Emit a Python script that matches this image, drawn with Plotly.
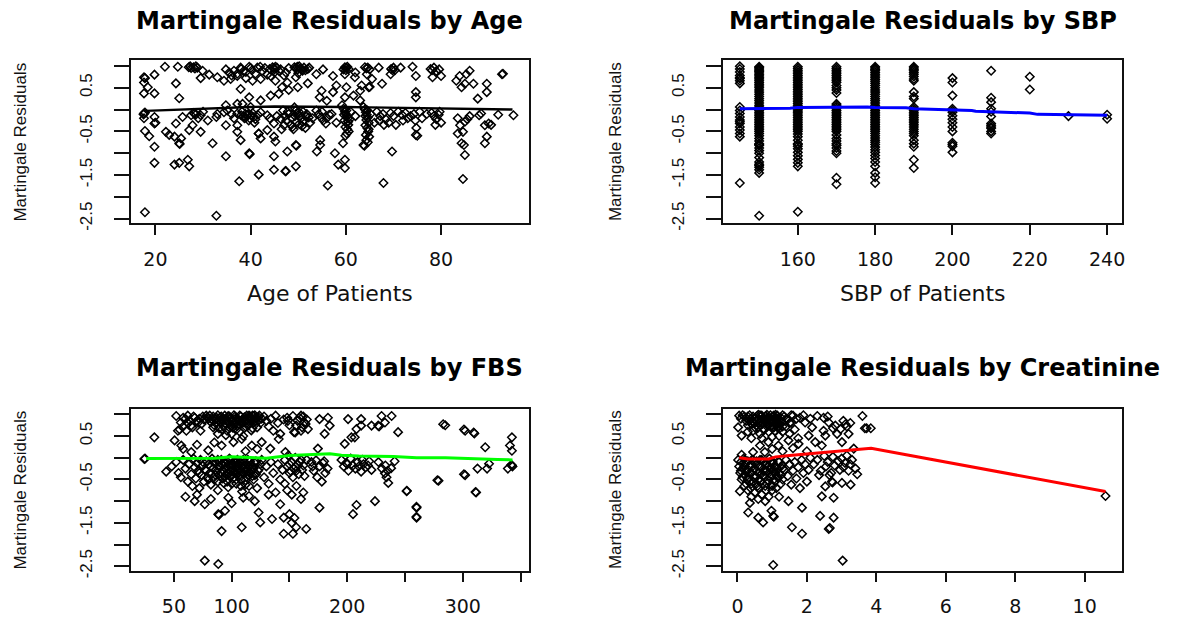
import plotly.graph_objects as go

# ---------------- data ----------------
# Panel 1: age vs martingale residual
age_points = [
    (22,0.98),(24.7,0.98),(27,0.97),(27.5,0.95),(28,0.97),(28.3,0.94),(28.8,0.96),(29.9,0.89),(29.5,0.72),(31.3,0.80),
    (33,0.74),(34.8,0.92),(35.5,0.85),(36.5,0.89),(37.2,0.82),(37.9,0.96),(38.5,0.88),(39.7,0.98),(40.3,0.9),(41.4,0.96),
    (42.4,0.89),(43,0.95),(44.6,0.97),(44.9,0.95),(45.2,0.98),(45,0.92),(46.3,0.92),(47.4,0.85),(49.2,0.97),(49.5,0.95),
    (49.8,0.98),(50.5,0.93),(50.9,0.89),(51.2,0.96),(52.3,0.96),(53.8,0.81),(55.2,0.92),(57.3,0.77),(59.8,0.97),(60.1,0.95),
    (60.3,0.98),(60,0.9),(59.8,0.81),(61.9,0.74),(64,0.97),(64.3,0.94),(64.4,0.81),(66.9,0.96),(69.5,0.93),(69.8,0.9),
    (69.4,0.81),(71.5,0.96),(74,0.98),(74.7,0.77),(77.8,0.93),(78.1,0.9),(79.6,0.92),(78.2,0.74),(80,0.77),(83.9,0.77),
    (86,0.89),(85.3,0.81),(93,0.82),
    (27.3,0.99),(28.5,0.99),(38,0.93),(40,0.95),(42,0.98),(44,0.93),(45.5,0.96),(46,0.88),(48,0.95),(49.9,0.92),
    (50.2,0.99),(51.5,0.9),(52,0.93),(59.5,0.92),(60.6,0.93),(64.6,0.96),(65,0.92),(70,0.96),(70.3,0.9),(78.5,0.96),
    (79,0.88),(45,0.85),(41,0.82),(39,0.86),(43.5,0.8),(47,0.78),(50,0.83),(36,0.78),(62,0.85),(65.5,0.7),
    (17.6,0.74),(17.8,0.72),(17.6,0.62),(19.8,0.80),(18.4,0.51),(17.6,0.37),(19.8,0.37),(24.3,0.60),(25,0.26),(34.4,0.66),
    (35.8,0.70),(37.2,0.77),(39,0.72),(40.4,0.66),(42.1,0.70),(44.2,0.77),(45.2,0.66),(37.9,0.47),(39.7,0.28),(37.2,0.13),
    (34.8,0.10),(42.1,0.21),(44.2,0.32),(45.9,0.36),(46.6,0.51),(47.7,0.62),(49.5,0.74),(49.9,0.51),(54.5,0.28),(54.9,0.43),
    (57.3,0.40),(59.8,0.28),(60.1,0.51),(61.6,0.32),(63,0.21),(63,0.43),(63.3,0.55),(64.8,0.51),(65,0.52),(67.6,0.59),
    (74.7,0.40),(74.7,0.28),(83.2,0.66),(84.3,0.51),(85,0.59),(86.8,0.59),(89.6,0.59),(89.6,0.40),(87.7,0.25),(92.8,0.81),
    (56,0.2),(58,0.55),(48,0.45),(52,0.6),
    (17.6,-0.09),(17.8,-0.07),(17.5,-0.11),(17.6,-0.2),(19.8,-0.17),(19.8,-0.32),(20,-0.30),(24.3,-0.32),(25.7,-0.17),(27.5,-0.13),
    (28.2,-0.09),(28.5,-0.11),(28,-0.08),(29.5,-0.13),(27.8,-0.36),(27.1,-0.47),(29.5,-0.51),(32.8,-0.17),(34.8,-0.36),(35.1,-0.02),
    (34.4,-0.06),(37.2,-0.09),(38,-0.13),(38.5,-0.15),(39,-0.18),(39.3,-0.12),(39.8,-0.2),(40.2,-0.14),(40.7,-0.17),(38.7,-0.2),
    (39.5,-0.1),(40,0.06),(38.3,0.13),(37.2,-0.36),(37.2,-0.51),(41.7,-0.55),(43.5,-0.47),(44.9,-0.32),(42.1,-0.06),(43.5,-0.13),
    (46.3,-0.21),(47,-0.36),(46.8,-0.02),(47.2,-0.15),(47.5,-0.25),(48,-0.1),(48.5,-0.35),(48.8,-0.4),(49.2,0.05),(49.5,-0.02),
    (49.8,-0.08),(50,-0.12),(50.3,-0.16),(50.6,-0.2),(51,-0.05),(51.3,-0.24),(51.8,-0.1),(52.2,-0.18),(49.6,-0.28),(50.2,-0.33),
    (50.8,-0.38),(49,-0.45),(51.5,-0.42),(53.8,-0.02),(54.3,-0.1),(54.8,-0.18),(55.3,-0.25),(55.8,-0.32),(56.5,-0.12),(59.2,0.1),
    (59.5,0.02),(59.8,-0.05),(60,-0.1),(60.2,-0.15),(60.4,-0.2),(59.7,-0.25),(60.1,-0.3),(60.5,-0.35),(59.9,-0.4),(60.3,-0.45),
    (60.6,-0.5),(61,-0.05),(60.8,-0.22),(63.7,0.06),(64,0.0),(64.2,-0.06),(64.4,-0.12),(64.6,-0.18),(64.3,-0.24),(64.8,-0.3),
    (64.1,-0.36),(64.5,-0.42),(64.7,-0.5),(64.2,-0.58),(64.9,-0.62),(65.2,-0.1),(66.5,-0.05),(67.2,-0.15),(67.8,-0.1),(68.4,-0.22),
    (69,-0.3),(69.4,-0.08),(68,-0.35),(71,-0.05),(71.8,-0.12),(72.5,-0.08),(73,-0.2),(73.6,-0.15),(74.3,-0.1),(74.6,-0.25),
    (74.8,-0.42),(75,-0.6),(74.7,-0.58),(78,-0.08),(78.5,-0.15),(79,-0.22),(79.5,-0.12),(80,-0.3),(78.8,-0.35),(79.7,-0.05),
    (83.5,-0.2),(84,-0.36),(85,-0.28),(85.5,-0.22),(86,-0.15),(88,-0.13),(88.4,-0.09),(89.2,-0.36),(90,-0.32),(90.5,-0.35),
    (92,-0.12),(95.2,-0.13),(84.6,-0.51),(83.5,-0.55),
    (38.2,-0.05),(39.6,-0.25),(40.4,-0.08),(41,-0.22),(38.9,-0.1),(40.8,-0.3),(36.5,-0.2),(41.5,-0.12),(49.3,-0.15),(50.1,-0.05),
    (50.9,-0.28),(51.6,-0.15),(48.6,-0.2),(52.5,-0.3),(46.5,-0.45),(60.1,-0.02),(59.6,-0.12),(60.5,-0.28),(60.2,-0.55),(59.9,-0.6),
    (64.5,-0.02),(64.1,-0.15),(64.8,-0.45),(64.3,-0.7),(64.6,-0.75),(55,-0.05),(56,-0.2),(57,-0.1),(58,-0.3),(67,-0.25),
    (70,-0.15),(72,-0.25),(76,-0.2),(77,-0.1),(29,-0.2),(30,-0.05),(31,-0.25),(33,-0.1),(36,-0.1),(44,-0.2),
    (45.5,-0.15),(47.8,-0.05),(53,-0.2),(62,-0.15),(66,-0.3),(70.5,-0.35),(75.5,-0.05),
    (17.8,-0.49),(18.7,-0.61),(19.8,-0.85),(19.8,-1.22),(22.2,-0.51),(22.9,-0.58),(24,-0.62),(25,-0.77),(25.1,-0.79),(25.4,-0.66),
    (25,-1.22),(26.8,-1.15),(27.1,-1.30),(24,-1.26),(17.8,-2.35),(32.8,-2.43),(32,-0.77),(34.8,-1.07),(37.9,-0.70),(39.7,-1.0),
    (39.8,-1.02),(37.6,-1.64),(41.7,-1.49),(44.9,-1.38),(47.3,-1.41),(44.9,-1.07),(42.1,-0.66),(41.7,-0.55),(44.9,-0.62),(45.2,-0.73),
    (47.7,-0.96),(49.5,-0.81),(49.6,-0.83),(47.4,-1.41),(49.5,-1.30),(53.9,-0.96),(54.6,-0.81),(54.6,-0.70),(57.7,-1.0),(59.4,-0.77),
    (59.8,-1.15),(58.4,-1.26),(59.8,-1.34),(63.7,-0.81),(63.9,-0.83),(56.2,-1.74),(67.9,-1.68),(69.7,-0.96),(84.3,-0.77),(85,-1.04),
    (84.6,-1.59),(89.6,-0.62),(89.2,-0.77),(84.8,-0.81),
]
age_line_x = [18, 25, 30, 35, 40, 45, 50, 55, 60, 65, 70, 75, 80, 85, 90, 95]
age_line_y = [-0.03, 0.0, 0.03, 0.05, 0.06, 0.07, 0.07, 0.06, 0.06, 0.05, 0.04, 0.03, 0.02, 0.01, 0.01, 0.0]

# Panel 2: SBP levels and residuals observed at each level
sbp_levels = [145, 150, 160, 170, 180, 190, 200, 210, 220, 230, 240]
sbp_residuals = [
    [0.99, 0.93, 0.86, 0.78, 0.73, 0.71, 0.66, 0.60, 0.06, -0.02, -0.09, -0.17, -0.24, -0.28, -0.32, -0.40, -0.47, -0.55, -0.62, -1.68],
    [0.98, 0.96, 0.93, 0.9, 0.87, 0.84, 0.8, 0.77, 0.73, 0.7, 0.66, 0.62, 0.58, 0.54, 0.5, 0.45, 0.4, 0.35, 0.3, 0.25, 0.2, 0.15,
     0.1, 0.06, 0.02, -0.02, -0.06, -0.1, -0.14, -0.18, -0.22, -0.26, -0.3, -0.34, -0.38, -0.42, -0.46, -0.5, -0.55, -0.6, -0.66,
     -0.72, -0.78, -0.8, -0.82, -0.88, -0.94, -1.0, -1.1, -1.2, -1.25, -1.28, -1.32, -1.38, -1.45, -2.43],
    [0.98, 0.94, 0.9, 0.86, 0.82, 0.78, 0.74, 0.7, 0.66, 0.62, 0.58, 0.54, 0.5, 0.46, 0.42, 0.38, 0.34, 0.3, 0.26, 0.22, 0.18,
     0.14, 0.1, 0.06, 0.03, 0.0, -0.03, -0.06, -0.1, -0.14, -0.18, -0.22, -0.26, -0.3, -0.34, -0.38, -0.42, -0.46, -0.5, -0.56,
     -0.62, -0.7, -0.78, -0.8, -0.84, -0.9, -0.98, -1.06, -1.14, -1.22, -1.3, -2.34],
    [0.98, 0.94, 0.9, 0.86, 0.82, 0.78, 0.74, 0.7, 0.66, 0.62, 0.55, 0.5, 0.45, 0.38, 0.13, 0.1, 0.06, 0.02, -0.02, -0.06, -0.1,
     -0.14, -0.18, -0.22, -0.26, -0.3, -0.34, -0.38, -0.42, -0.46, -0.5, -0.58, -0.66, -0.72, -0.78, -0.82, -0.88, -0.95, -1.0,
     -1.56, -1.71],
    [0.98, 0.95, 0.92, 0.89, 0.85, 0.81, 0.77, 0.73, 0.69, 0.65, 0.6, 0.55, 0.5, 0.45, 0.4, 0.35, 0.3, 0.25, 0.2, 0.15, 0.1,
     0.06, 0.02, -0.02, -0.06, -0.1, -0.14, -0.18, -0.22, -0.26, -0.3, -0.34, -0.38, -0.42, -0.46, -0.5, -0.55, -0.6, -0.65,
     -0.7, -0.75, -0.8, -0.86, -0.92, -0.98, -1.05, -1.12, -1.2, -1.3, -1.45, -1.55, -1.68],
    [0.98, 0.95, 0.92, 0.89, 0.85, 0.81, 0.76, 0.7, 0.66, 0.4, 0.3, 0.25, 0.06, 0.02, -0.02, -0.06, -0.1, -0.14, -0.18, -0.22,
     -0.26, -0.3, -0.35, -0.4, -0.45, -0.5, -0.55, -0.6, -0.7, -0.78, -0.85, -1.15, -1.34],
    [0.72, 0.62, 0.32, 0.02, -0.02, -0.06, -0.14, -0.22, -0.3, -0.4, -0.5, -0.76, -0.8, -0.84, -0.98],
    [0.89, 0.27, 0.17, 0.02, -0.05, -0.16, -0.32, -0.36, -0.4, -0.43, -0.5, -0.55],
    [0.75, 0.46],
    [-0.15],
    [-0.12, -0.21],
]
sbp_line_x = [145, 150, 158, 160, 170, 178, 180, 188, 190, 200, 205, 206, 210, 212, 220, 222, 230, 240]
sbp_line_y = [0.02, 0.02, 0.03, 0.05, 0.06, 0.06, 0.05, 0.04, 0.02, 0.0, -0.02, -0.04, -0.05, -0.07, -0.08, -0.11, -0.12, -0.13]

# Panel 3: FBS vs martingale residual
fbs_points = [
    (78,0.97),(80,0.9),(82,0.82),(84,0.95),(85,0.75),(86,0.88),(88,0.98),(89,0.68),(90,0.93),(91,0.8),(92,0.86),(93,0.72),
    (94,0.97),(95,0.9),(96,0.62),(97,0.83),(98,0.95),(99,0.77),(100,0.88),(101,0.69),(102,0.98),(103,0.82),(104,0.92),(105,0.74),
    (106,0.86),(107,0.6),(108,0.95),(109,0.79),(110,0.9),(111,0.68),(112,0.84),(113,0.97),(114,0.74),(115,0.92),(116,0.8),(117,0.63),
    (118,0.97),(119,0.87),(120,0.76),(121,0.93),(122,0.7),(123,0.85),(124,0.97),(125,0.8),(126,0.9),(100,0.55),(110,0.5),(88,0.55),
    (95,0.52),(52,0.96),(56,0.81),(60,0.9),(62,0.97),(65,0.74),(68,0.92),(70,0.85),(71,0.81),(73,0.62),(75,0.95),(53.5,0.62),
    (60.8,0.62),(58,0.72),(128,0.95),(130,0.85),(132,0.72),(134,0.9),(136,0.62),(138,0.97),(140,0.8),(142,0.55),(145,0.88),(148,0.92),
    (150,0.75),(153,0.96),(158.7,0.92),(163,0.81),(155.8,0.74),(166,0.66),(160,0.62),(148.6,0.85),(154,0.59),(155,0.58),(162,0.95),
    (165,0.88),(176,0.89),(183.3,0.92),(184.8,0.74),(180.4,0.55),(200.7,0.89),(212,0.89),(212,0.74),(206.5,0.47),(208,0.66),(221,0.74),
    (226.8,0.74),(227.5,0.72),(229.7,0.96),(232.6,0.81),(238.4,0.96),(244,0.59),(197.8,0.32),(203.6,0.47),(174.6,0.21),(284.8,0.75),
    (302,0.62),(301,0.65),(309.4,0.58),(310,0.56),(319.4,0.24),(342.5,0.47),(340.8,0.28),(342.5,0.16),(283,0.77),
    (79,0.93),(81,0.97),(83,0.88),(87,0.92),(89,0.85),(91,0.95),(93,0.9),(95,0.78),(97,0.96),(99,0.92),(101,0.85),(103,0.95),
    (105,0.9),(107,0.97),(109,0.86),(111,0.93),(113,0.8),(115,0.97),(117,0.9),(119,0.96),(121,0.84),(123,0.94),(98,0.7),(104,0.65),
    (112,0.72),(118,0.68),(92,0.66),(86,0.8),(84,0.7),(106,0.78),(114,0.88),(120,0.98),(96,0.85),(102,0.75),(108,0.83),(116,0.95),
    (64,0.85),(67,0.95),(72,0.9),(74,0.78),(76,0.88),(66,0.7),(62,0.8),(58,0.92),(157,0.85),(160,0.97),(164,0.78),(161,0.7),
    (33.1,0.47),(50.6,0.4),(56.4,0.28),(65,0.13),(79.7,0.17),(91.3,0.28),(101.5,0.36),(108.7,0.43),(117.4,0.28),(126,0.36),
    (133.4,0.21),(140.7,0.43),(146.5,0.13),(55,0.65),(58,0.2),(85,0.35),(112,0.15),(122,0.2),(70,0.3),
    (43.3,-0.32),(48,-0.2),(52,-0.1),(54,-0.35),(56,-0.45),(58,-0.05),(60,-0.25),(62,-0.55),(63,-0.15),(65,-0.38),(66,-0.65),
    (67,-0.02),(68,-0.22),(69,-0.48),(70,-0.12),(71,-0.3),(72,-0.7),(73,-0.05),(74,-0.4),(75,-0.18),(76,-0.55),(77,-0.28),(78,-0.08),
    (79,-0.45),(80,-0.15),(81,-0.35),(82,-0.62),(83,-0.02),(84,-0.25),(85,-0.5),(86,-0.1),(87,-0.32),(88,-0.75),(89,-0.2),(90,-0.42),
    (91,-0.05),(92,-0.28),(93,-0.58),(94,-0.12),(95,-0.38),(96,-0.22),(97,-0.68),(98,-0.02),(99,-0.3),(100,-0.15),(101,-0.48),
    (102,-0.08),(103,-0.35),(104,-0.6),(105,-0.2),(106,-0.42),(107,-0.1),(108,-0.3),(109,-0.78),(110,-0.05),(111,-0.25),(112,-0.52),
    (113,-0.15),(114,-0.4),(115,-0.65),(116,-0.08),(117,-0.3),(118,-0.2),(119,-0.5),(120,-0.12),(121,-0.38),(122,-0.7),(124,-0.25),
    (126,-0.05),(128,-0.45),(130,-0.2),(132,-0.6),(134,-0.1),(136,-0.35),(138,-0.8),(140,-0.15),(142,-0.5),(144,-0.28),
    (92,-0.16),(96,-0.08),(99,-0.22),(103,-0.12),(106,-0.26),(110,-0.18),(113,-0.32),(97,-0.36),(101,-0.28),(105,-0.05),(94,-0.45),
    (108,-0.5),(100,-0.4),(104,-0.38),(89,-0.1),(86,-0.4),(115,-0.22),(118,-0.42),
    (82,-0.2),(84,-0.1),(86,-0.28),(88,-0.05),(90,-0.22),(91,-0.35),(93,-0.1),(95,-0.25),(97,-0.15),(98,-0.42),(99,-0.05),
    (101,-0.18),(102,-0.3),(104,-0.1),(105,-0.32),(106,-0.15),(107,-0.4),(109,-0.22),(110,-0.35),(111,-0.1),(112,-0.28),(113,-0.45),
    (114,-0.05),(116,-0.35),(117,-0.15),(119,-0.25),(120,-0.4),(121,-0.08),(123,-0.3),(125,-0.15),(96,-0.55),(100,-0.6),(104,-0.5),
    (108,-0.65),(112,-0.62),(92,-0.48),(88,-0.55),(78,-0.3),(75,-0.1),(72,-0.35),(80,-0.5),(84,-0.45),(150,-0.15),(156,-0.3),
    (159,-0.1),(155,-0.2),(165,-0.05),(170,-0.2),(200,-0.15),(213,-0.05),(218,-0.18),
    (68,-1.0),(76.7,-1.07),(88.4,-1.3),(89,-1.32),(94.2,-1.22),(91.3,-1.69),(108.7,-1.6),(124.7,-1.49),(134.9,-1.41),(145,-1.38),
    (145,-1.75),(123.3,-1.26),(97.1,-0.92),(110,-0.92),(120,-1.0),(132,-0.85),(142,-1.07),(76.7,-2.37),(88.4,-2.45),(60,-0.9),
    (70,-0.85),(82,-0.95),(100,-1.05),(115,-0.88),
    (146,-0.05),(148,-0.2),(149,0.05),(150,-0.35),(152,-0.1),(153,-0.45),(154,-0.25),(155,0.0),(157,-0.15),(158,-0.38),(160,-0.05),
    (161,-0.28),(162,-0.18),(163,-0.42),(151,-0.3),(169,-0.1),(171,-0.3),(173,-0.06),(174,-0.45),(176,-0.2),(178,-0.55),(179,-0.12),
    (181,-0.35),(183,-0.25),(180,-0.08),(195,-0.05),(197,-0.2),(199,-0.12),(201,-0.3),(203,-0.02),(205,-0.18),(207,-0.25),(209,-0.1),
    (212,-0.32),(214,-0.15),(216,-0.22),(219,-0.08),(221,-0.28),(210,-0.2),(227,-0.1),(230,-0.25),(233,-0.18),(235,-0.3),(241,-0.08),
    (238,-0.24),(232.6,-0.36),(235.5,-0.58),(234,-0.45),
    (146,-0.6),(148,-0.75),(152,-0.85),(156,-0.65),(160,-0.95),(162,-0.8),(176,-1.15),(205,-1.3),(208,-1.09),(224,-1.0),(260,-1.15),
    (260,-1.38),(251.4,-0.77),(279,-0.53),(302,-0.4),(150,-1.3),(152,-1.5),(153,-1.75),(155.8,-1.6),(164.5,-1.64),(154.3,-1.39),
    (342.5,-0.18),(342,-0.16),(343,-0.2),(339,-0.25),(322.7,-0.14),(321,-0.25),(312.7,-0.25),(301,-0.38),(278,-0.52),(311,-0.79),
    (311.5,-0.8),(251.6,-0.76),(259.9,-1.13),(259.9,-1.36),(24.4,-0.03),(25,-0.02),
]
fbs_line_x = [26, 60, 85, 100, 120, 130, 150, 170, 185, 195, 210, 240, 260, 285, 310, 330, 343]
fbs_line_y = [-0.02, -0.02, -0.01, 0.02, 0.01, -0.01, 0.05, 0.07, 0.09, 0.06, 0.04, 0.03, 0.0, 0.0, -0.03, -0.04, -0.05]

# Panel 4: creatinine vs martingale residual
creat_points = [
    (0.05,0.97),(0.1,0.9),(0.02,0.7),(0.12,0.51),(0.2,0.95),(0.25,0.85),(0.3,0.75),(0.35,0.98),(0.4,0.9),(0.45,0.62),(0.5,0.8),
    (0.55,0.95),(0.6,0.7),(0.62,0.88),(0.65,0.55),(0.7,0.97),(0.72,0.78),(0.75,0.9),(0.78,0.65),(0.8,0.85),(0.82,0.96),(0.85,0.72),
    (0.88,0.92),(0.9,0.6),(0.92,0.8),(0.95,0.98),(0.98,0.88),(1.0,0.7),(1.02,0.95),(1.05,0.82),(1.08,0.62),(1.1,0.9),(1.12,0.75),
    (1.15,0.97),(1.18,0.85),(1.2,0.5),(1.22,0.68),(1.25,0.92),(1.28,0.8),(1.3,0.6),(1.35,0.95),(1.4,0.72),(1.45,0.88),(1.5,0.55),
    (1.55,0.8),(1.6,0.97),(1.65,0.65),(1.7,0.9),(1.75,0.45),(0.4,0.45),(0.7,0.45),(1.0,0.48),(0.3,0.6),(0.85,0.99),(1.1,0.99),
    (0.6,0.99),(1.3,0.98),(0.9,0.75),(0.65,0.82),(1.15,0.7),(0.5,0.9),
    (0.3,0.95),(0.35,0.85),(0.4,0.78),(0.45,0.95),(0.5,0.7),(0.55,0.85),(0.6,0.9),(0.65,0.75),(0.7,0.88),(0.75,0.65),(0.8,0.95),
    (0.85,0.82),(0.9,0.9),(0.95,0.72),(1.0,0.85),(1.05,0.97),(1.1,0.8),(1.15,0.9),(1.2,0.78),(1.25,0.85),(1.3,0.72),(0.45,0.82),
    (0.55,0.75),(0.75,0.8),(0.95,0.85),(1.05,0.7),(0.25,0.92),(0.15,0.98),(0.65,0.98),(0.85,0.88),(1.4,0.9),(1.5,0.8),(1.55,0.98),
    (1.8,0.92),(1.95,0.81),(2.15,0.7),(2.3,0.96),(2.48,0.92),(2.63,0.81),(2.82,0.74),(2.97,0.66),(3.11,0.77),(3.2,0.55),(2.87,0.55),
    (2.48,0.62),(2.53,0.51),(2.05,0.51),(2.24,0.36),(3.01,0.36),(2.43,0.28),(3.6,0.96),(3.67,0.68),(3.72,0.68),(3.84,0.68),(3.35,0.21),
    (1.9,0.98),(2.1,0.9),(2.6,0.95),(3.05,0.85),(3.15,0.72),(2.75,0.68),(3.25,0.8),
    (0.65,0.28),(0.89,0.36),(1.18,0.28),(1.47,0.4),(1.76,0.32),(0.45,0.13),(0.79,0.13),(0.12,0.07),(1.0,0.2),(1.3,0.15),(1.6,0.22),
    (2.0,0.15),
    (0.02,-0.05),(0.05,-0.2),(0.08,-0.35),(0.1,-0.1),(0.12,-0.5),(0.15,-0.25),(0.18,-0.02),(0.2,-0.4),(0.22,-0.15),(0.25,-0.6),
    (0.28,-0.3),(0.3,-0.08),(0.32,-0.45),(0.35,-0.2),(0.38,-0.7),(0.4,-0.35),(0.42,-0.05),(0.45,-0.55),(0.48,-0.25),(0.5,-0.12),
    (0.52,-0.42),(0.55,-0.3),(0.58,-0.65),(0.6,-0.18),(0.62,-0.5),(0.65,-0.05),(0.68,-0.38),(0.7,-0.22),(0.72,-0.6),(0.75,-0.1),
    (0.78,-0.45),(0.8,-0.3),(0.82,-0.75),(0.85,-0.15),(0.88,-0.52),(0.9,-0.35),(0.92,-0.02),(0.95,-0.25),(0.98,-0.62),(1.0,-0.4),
    (1.02,-0.1),(1.05,-0.3),(1.08,-0.55),(1.1,-0.2),(1.12,-0.7),(1.15,-0.45),(1.18,-0.08),(1.2,-0.35),(1.25,-0.6),(1.28,-0.18),
    (1.3,-0.5),(1.35,-0.28),(1.4,-0.05),(1.45,-0.42),(1.5,-0.15),(1.55,-0.62),(1.6,-0.3),(1.65,-0.1),(1.7,-0.48),(1.75,-0.22),
    (1.8,-0.7),(1.85,-0.05),(1.9,-0.35),(1.95,-0.15),(2.0,-0.55),(2.05,-0.28),(0.5,-0.8),(0.7,-0.85),(0.9,-0.9),(0.3,-0.75),
    (1.0,-0.75),(1.2,-0.9),(0.6,-0.95),(0.8,-1.0),(0.4,-0.9),
    (0.1,-0.3),(0.15,-0.45),(0.2,-0.2),(0.25,-0.1),(0.3,-0.5),(0.35,-0.35),(0.4,-0.15),(0.45,-0.3),(0.5,-0.45),(0.55,-0.08),
    (0.6,-0.35),(0.65,-0.55),(0.7,-0.05),(0.75,-0.4),(0.8,-0.15),(0.85,-0.6),(0.9,-0.2),(0.95,-0.45),(1.0,-0.12),(1.05,-0.5),
    (1.1,-0.38),(1.15,-0.25),(1.2,-0.1),(1.25,-0.4),(1.3,-0.25),(0.35,-0.55),(0.55,-0.6),(0.75,-0.3),(0.95,-0.1),(0.45,-0.05),
    (0.25,-0.3),(0.85,-0.3),(1.05,-0.2),(0.65,-0.2),(0.4,-0.6),(0.6,-0.7),(0.8,-0.65),(1.0,-0.65),(0.2,-0.65),
    (2.1,0.0),(2.2,-0.15),(2.3,-0.05),(2.4,-0.3),(2.5,0.04),(2.55,-0.2),(2.6,-0.1),(2.7,-0.35),(2.75,0.02),(2.8,-0.18),(2.9,-0.08),
    (2.95,-0.28),(3.0,-0.02),(3.05,-0.22),(3.1,-0.12),(3.2,-0.3),(3.25,-0.15),(3.3,-0.05),(3.4,-0.25),(3.45,-0.38),(2.35,-0.4),
    (2.65,-0.4),(3.15,0.05),
    (2.53,-0.66),(2.72,-0.55),(2.74,-0.57),(3.01,-0.58),(3.26,-0.62),(2.43,-0.89),(2.77,-0.92),(2.38,-1.34),(2.77,-1.38),(2.63,-1.64),
    (2.66,-1.62),(1.86,-1.15),(1.57,-1.6),(1.86,-1.75),(0.07,-0.77),(0.36,-1.04),(0.6,-1.38),(0.74,-1.49),(1.03,-1.34),(1.05,-1.36),
    (0.31,-1.26),(0.98,-1.22),(1.47,-1.0),(1.03,-2.47),(3.03,-2.37),(10.6,-0.88),
]
creat_line_x = [0.05, 0.3, 0.9, 1.1, 1.5, 2.2, 3.0, 3.85, 10.6]
creat_line_y = [0.0, -0.03, -0.03, 0.02, 0.05, 0.1, 0.16, 0.22, -0.78]

titles = ["Martingale Residuals by Age", "Martingale Residuals by SBP",
          "Martingale Residuals by FBS", "Martingale Residuals by Creatinine"]
xlabels = ["Age of Patients", "SBP of Patients", None, None]
ylabel = "Martingale Residuals"

y_tickvals = [-2.5, -2.0, -1.5, -1.0, -0.5, 0.0, 0.5, 1.0]
y_ticktext = ["-2.5", "", "-1.5", "", "-0.5", "", "0.5", ""]

x_ticks = [
    ([20, 40, 60, 80], ["20", "40", "60", "80"]),
    ([160, 180, 200, 220, 240], ["160", "180", "200", "220", "240"]),
    ([50, 100, 150, 200, 250, 300, 350], ["50", "100", "", "200", "", "300", ""]),
    ([0, 2, 4, 6, 8, 10], ["0", "2", "4", "6", "8", "10"]),
]
x_ranges = [[14.8, 98.4], [140.7, 243.9], [12.6, 357.0], [-0.41, 11.08]]
y_range = [-2.6, 1.13]

# ---------------- figure ----------------
W, H = 1201, 624
x_domains = [[131 / W, 530 / W], [725 / W, 1125 / W], [131 / W, 530 / W], [725 / W, 1125 / W]]
y_domains = [[1 - 226 / H, 1 - 61 / H], [1 - 226 / H, 1 - 61 / H], [1 - 578 / H, 1 - 414 / H], [1 - 578 / H, 1 - 414 / H]]

marker = dict(symbol="diamond-open", size=6.5, color="black", line=dict(width=1.5, color="black"))

fig = go.Figure()

age_x, age_y = zip(*age_points)
fbs_x, fbs_y = zip(*fbs_points)
cr_x, cr_y = zip(*creat_points)
sbp_x, sbp_y = [], []
for lvl, vals in zip(sbp_levels, sbp_residuals):
    for v in vals:
        sbp_x.append(lvl)
        sbp_y.append(v)

scatter_sets = [(age_x, age_y), (sbp_x, sbp_y), (fbs_x, fbs_y), (cr_x, cr_y)]
line_sets = [(age_line_x, age_line_y, "black", 2.4), (sbp_line_x, sbp_line_y, "#0000ff", 3),
             (fbs_line_x, fbs_line_y, "#00ff00", 3), (creat_line_x, creat_line_y, "#ff0000", 3)]

for i in range(4):
    suf = "" if i == 0 else str(i + 1)
    sx, sy = scatter_sets[i]
    fig.add_trace(go.Scatter(x=list(sx), y=list(sy), mode="markers", marker=marker,
                             xaxis="x" + suf, yaxis="y" + suf, showlegend=False, hoverinfo="skip"))
    lx, ly, lc, lw = line_sets[i]
    fig.add_trace(go.Scatter(x=lx, y=ly, mode="lines", line=dict(color=lc, width=lw),
                             xaxis="x" + suf, yaxis="y" + suf, showlegend=False, hoverinfo="skip"))

layout = dict(width=W, height=H, margin=dict(l=0, r=0, t=0, b=0),
              paper_bgcolor="white", plot_bgcolor="white", showlegend=False)

common_axis = dict(showline=True, linecolor="#111", linewidth=1.8, mirror=True, ticks="outside",
                   tickcolor="#111", tickwidth=1.6, showgrid=False, zeroline=False, fixedrange=True)

for i in range(4):
    suf = "" if i == 0 else str(i + 1)
    tv, tt = x_ticks[i]
    layout["xaxis" + suf] = dict(common_axis, domain=x_domains[i], range=x_ranges[i], anchor="y" + suf,
                                 tickmode="array", tickvals=tv, ticktext=tt, ticklen=10,
                                 tickfont=dict(family="DejaVu Sans", size=19, color="#111"),
                                 ticklabelstandoff=8)
    layout["yaxis" + suf] = dict(common_axis, domain=y_domains[i], range=y_range, anchor="x" + suf,
                                 tickmode="array", tickvals=y_tickvals, ticktext=y_ticktext, ticklen=15,
                                 tickangle=-90, tickfont=dict(family="Liberation Sans", size=17, color="#111"),
                                 ticklabelstandoff=15)

annotations = []
for i in range(4):
    xc = (x_domains[i][0] + x_domains[i][1]) / 2
    ty = 1 - 21 / H if i < 2 else 1 - 373 / H
    annotations.append(dict(text="<b>%s</b>" % titles[i], x=xc, y=ty, xref="paper", yref="paper",
                            xanchor="center", yanchor="middle", showarrow=False,
                            font=dict(family="DejaVu Sans", size=24, color="black")))
    if xlabels[i]:
        annotations.append(dict(text=xlabels[i], x=xc, y=1 - 297.7 / H, xref="paper", yref="paper",
                                xanchor="center", yanchor="middle", showarrow=False,
                                font=dict(family="DejaVu Sans", size=22, color="#111")))
    yc = (y_domains[i][0] + y_domains[i][1]) / 2
    ax = 21 / W if i in (0, 2) else 617 / W
    annotations.append(dict(text=ylabel, x=ax, y=yc, xref="paper", yref="paper", textangle=-90,
                            xanchor="center", yanchor="middle", showarrow=False,
                            font=dict(family="Liberation Sans", size=17, color="#111")))
layout["annotations"] = annotations

fig.update_layout(**layout)
fig.write_html("out.html")
